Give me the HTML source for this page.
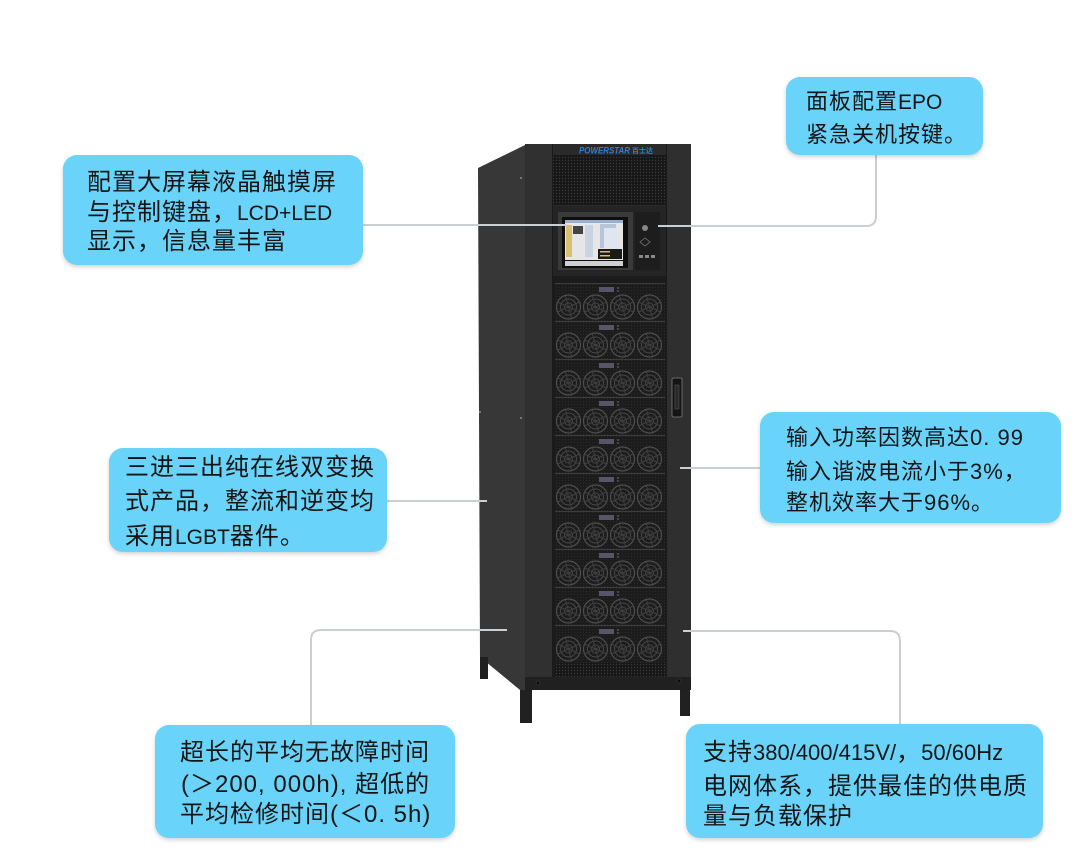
<!DOCTYPE html>
<html>
<head>
<meta charset="utf-8">
<style>
  html,body{margin:0;padding:0;background:#ffffff;}
  #wrap{position:relative;width:1080px;height:852px;overflow:hidden;background:#fff;}
  svg{position:absolute;left:0;top:0;}
  .box{position:absolute;background:#6ad3f9;border-radius:14px;box-shadow:0 2px 4px rgba(0,0,0,0.18);}
  .t{position:absolute;white-space:nowrap;color:#151515;font-family:"Liberation Sans","Noto Sans CJK SC",sans-serif;font-size:24px;line-height:30px;letter-spacing:1px;}
  .s{font-size:22px;letter-spacing:1px;}
  .l20{font-size:21px;letter-spacing:0;}
  .l21{font-size:22px;letter-spacing:0;}
</style>
</head>
<body>
<div id="wrap">
<svg width="1080" height="852" viewBox="0 0 1080 852" xmlns="http://www.w3.org/2000/svg">
  <defs>
    <pattern id="dots" width="3" height="3" patternUnits="userSpaceOnUse">
      <rect width="3" height="3" fill="#161616"/>
      <circle cx="1.5" cy="1.5" r="0.7" fill="#3b3b3b"/>
    </pattern>
    <pattern id="mesh" width="3" height="3" patternUnits="userSpaceOnUse">
      <circle cx="1.5" cy="1.5" r="0.5" fill="#2e2e2e"/>
    </pattern>
    <g id="fan">
      <circle cx="0" cy="0" r="12" fill="none" stroke="#4f4f4f" stroke-width="1.2"/>
      <circle cx="0" cy="0" r="8" fill="none" stroke="#464646" stroke-width="1"/>
      <circle cx="0" cy="0" r="4" fill="none" stroke="#444" stroke-width="1"/>
      <path d="M-11,-5 L11,5 M-11,5 L11,-5 M-3,-11 L3,11" stroke="#3f3f3f" stroke-width="1"/>
    </g>
    <g id="mod">
      <rect x="0" y="0" width="110" height="38" fill="#1c1c1c"/>
      <rect x="0" y="0" width="110" height="38" fill="url(#mesh)"/>
      <line x1="0" y1="0.5" x2="110" y2="0.5" stroke="#3d3d3d" stroke-width="1"/>
      <rect x="44" y="4" width="15" height="5" fill="#565668"/>
      <circle cx="63" cy="5" r="0.8" fill="#777"/>
      <circle cx="63" cy="8" r="0.8" fill="#777"/>
      <use href="#fan" x="13.5" y="24"/>
      <use href="#fan" x="40.5" y="24"/>
      <use href="#fan" x="67.5" y="24"/>
      <use href="#fan" x="94.5" y="24"/>
    </g>
  </defs>

  <!-- side panel -->
  <polygon points="478,168 525,145 525,690 520,690 480,657" fill="#373737"/>
  <rect x="480" y="657" width="8" height="22" fill="#1f1f1f"/>
  <circle cx="480" cy="412" r="1" fill="#888"/>
  <circle cx="521" cy="418" r="1" fill="#888"/>
  <circle cx="521" cy="178" r="1" fill="#888"/>

  <!-- front body -->
  <rect x="525" y="144" width="166" height="546" fill="#2b2b2b"/>
  <rect x="525" y="144" width="27" height="546" fill="#303030"/>
  <line x1="552.5" y1="144" x2="552.5" y2="677" stroke="#1a1a1a" stroke-width="1"/>
  <rect x="667" y="144" width="24" height="546" fill="#2f2f2f"/>
  <line x1="666.5" y1="144" x2="666.5" y2="677" stroke="#1a1a1a" stroke-width="1"/>

  <!-- top logo band -->
  <rect x="553" y="144" width="113" height="11" fill="#2a2a2a"/>
  <text x="579" y="153.5" font-family="Liberation Sans, sans-serif" font-size="9" font-weight="bold" font-style="italic" fill="#2e7fd6" textLength="51" lengthAdjust="spacingAndGlyphs">POWERSTAR</text>
  <text x="632" y="153" font-family="Liberation Sans, Noto Sans CJK SC, sans-serif" font-size="7" font-weight="bold" fill="#2e7fd6">百士达</text>
  <!-- vent -->
  <rect x="553" y="155" width="113" height="50" fill="url(#dots)"/>

  <!-- control panel -->
  <rect x="553" y="206" width="113" height="70" fill="#242424"/>
  <rect x="558" y="212" width="75" height="58" fill="#3a3a3a"/>
  <rect x="562" y="217" width="66" height="51" fill="#0e0e0e"/>
  <rect x="565" y="220" width="58" height="40" fill="#e6e6e6"/>
  <rect x="565" y="220" width="58" height="3" fill="#9bb0d0"/>
  <rect x="566" y="225" width="6" height="32" fill="#d8c070"/>
  <rect x="573" y="226" width="10" height="8" fill="#444"/>
  <rect x="585" y="225" width="8" height="32" fill="#c8d4e4"/>
  <rect x="600" y="224" width="16" height="24" fill="#b8c4d8"/>
  <rect x="604" y="228" width="14" height="22" fill="#dfe6f0"/>
  <rect x="598" y="249" width="24" height="10" fill="#1a1a1a"/>
  <rect x="600" y="251" width="10" height="1.5" fill="#e0c040"/>
  <rect x="600" y="255" width="10" height="1.5" fill="#e0c040"/>
  <rect x="565" y="261" width="58" height="5" fill="#cfcfcf"/>
  <rect x="635" y="212" width="25" height="58" fill="#1d1d1d"/>
  <circle cx="645" cy="228" r="3" fill="#888"/>
  <path d="M640,242 L645,238 L650,242 L645,246 Z" fill="none" stroke="#777" stroke-width="0.8"/>
  <rect x="639" y="255" width="4" height="3" fill="#888"/>
  <rect x="645" y="255" width="4" height="3" fill="#888"/>
  <rect x="651" y="255" width="4" height="3" fill="#888"/>

  <!-- modules -->
  <rect x="553" y="276" width="113" height="401" fill="#1b1b1b"/>
  <use href="#mod" x="555" y="283"/>
  <use href="#mod" x="555" y="321"/>
  <use href="#mod" x="555" y="359"/>
  <use href="#mod" x="555" y="397"/>
  <use href="#mod" x="555" y="435"/>
  <use href="#mod" x="555" y="473"/>
  <use href="#mod" x="555" y="511"/>
  <use href="#mod" x="555" y="549"/>
  <use href="#mod" x="555" y="587"/>
  <use href="#mod" x="555" y="625"/>
  <rect x="555" y="663" width="110" height="14" fill="url(#dots)"/>

  <!-- handle -->
  <rect x="672" y="378" width="10" height="39" rx="1.5" fill="#141414" stroke="#6a6a6a" stroke-width="1"/>
  <rect x="675" y="385" width="4" height="24" fill="#2a2a2a" stroke="#555" stroke-width="0.6"/>

  <!-- base & legs -->
  <rect x="525" y="677" width="166" height="13" fill="#202020"/>
  <circle cx="538" cy="683" r="2" fill="#0c0c0c" stroke="#444" stroke-width="0.6"/>
  <circle cx="679" cy="681" r="2" fill="#0c0c0c" stroke="#444" stroke-width="0.6"/>
  <rect x="520" y="690" width="12" height="33" fill="#212121"/>
  <rect x="680" y="690" width="10" height="26" fill="#212121"/>

  <!-- connectors -->
  <g fill="none" stroke="#cbcfd2" stroke-width="2">
    <line x1="363" y1="225" x2="567" y2="225"/>
    <path d="M876,155 V216 Q876,226 866,226 H658"/>
    <line x1="387" y1="501" x2="487" y2="501"/>
    <line x1="680" y1="468" x2="760" y2="468"/>
    <path d="M311,725 V640 Q311,630 321,630 H507"/>
    <path d="M683,631 H890 Q900,631 900,641 V724"/>
  </g>
</svg>

<!-- Box 1 -->
<div class="box" style="left:63px;top:155px;width:300px;height:110px;"></div>
<div class="t" style="left:87px;top:168px;">配置大屏幕液晶触摸屏</div>
<div class="t" style="left:87px;top:198px;">与控制键盘，<span class="l20">LCD+LED</span></div>
<div class="t" style="left:87px;top:227px;">显示，信息量丰富</div>

<!-- Box 2 -->
<div class="box" style="left:786px;top:77px;width:197px;height:78px;"></div>
<div class="t s" style="left:806px;top:87px;">面板配置<span class="l20">EPO</span></div>
<div class="t s" style="left:806px;top:120px;">紧急关机按键。</div>

<!-- Box 3 -->
<div class="box" style="left:109px;top:448px;width:278px;height:104px;"></div>
<div class="t" style="left:125px;top:453px;">三进三出纯在线双变换</div>
<div class="t" style="left:125px;top:487px;">式产品，整流和逆变均</div>
<div class="t" style="left:125px;top:522px;">采用<span class="l20">LGBT</span>器件。</div>

<!-- Box 4 -->
<div class="box" style="left:760px;top:412px;width:301px;height:111px;"></div>
<div class="t s" style="left:786px;top:423px;">输入功率因数高达0. 99</div>
<div class="t s" style="left:786px;top:457px;">输入谐波电流小于3%，</div>
<div class="t s" style="left:786px;top:488px;">整机效率大于96%。</div>

<!-- Box 5 -->
<div class="box" style="left:155px;top:725px;width:300px;height:113px;"></div>
<div class="t" style="left:180px;top:738px;">超长的平均无故障时间</div>
<div class="t" style="left:181px;top:770px;">(＞200, 000h), 超低的</div>
<div class="t" style="left:180px;top:800px;">平均检修时间(＜0. 5h)</div>

<!-- Box 6 -->
<div class="box" style="left:686px;top:724px;width:357px;height:114px;"></div>
<div class="t" style="left:703px;top:738px;">支持<span class="l21">380/400/415V/</span>，<span class="l21">50/60Hz</span></div>
<div class="t" style="left:703px;top:772px;">电网体系，提供最佳的供电质</div>
<div class="t" style="left:703px;top:802px;">量与负载保护</div>
</div>
</body>
</html>
